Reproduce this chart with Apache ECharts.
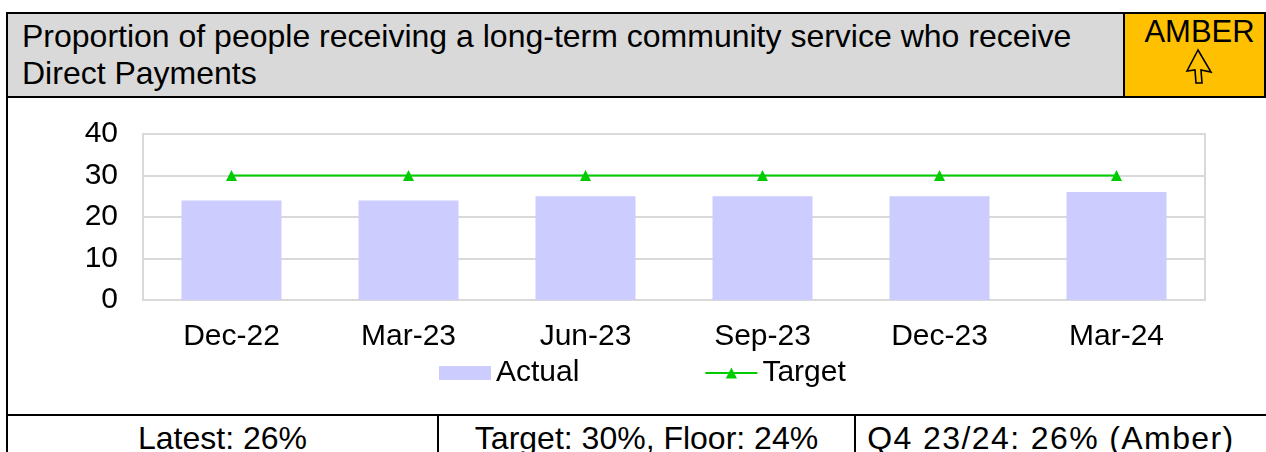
<!DOCTYPE html>
<html>
<head>
<meta charset="utf-8">
<script src="https://cdn.jsdelivr.net/npm/echarts@6/dist/echarts.min.js"></script>
<style>
  html, body { margin: 0; padding: 0; background: #fff; width: 1266px; height: 452px; overflow: hidden; }
  body { position: relative; font-family: "Liberation Sans", Arial, sans-serif; color: #000; }
  .abs { position: absolute; box-sizing: border-box; white-space: nowrap; }
  #header { left: 6px; top: 12px; width: 1119px; height: 86px; background: #d9d9d9;
            border: 2px solid #000; border-right: none; }
  #title { left: 22px; top: 18px; font-size: 32px; line-height: 37px; }
  #rag { left: 1123px; top: 12px; width: 143px; height: 86px; background: #ffc000;
         border: 2px solid #000; }
  #ragText { left: 1128px; top: 14px; width: 143px; text-align: center; font-size: 31px; line-height: 36px; }
  #arrow { left: 1183px; top: 48px; }
  #body { left: 6px; top: 96px; width: 1262px; height: 320px; border-left: 2px solid #000; border-bottom: 2px solid #000; }
  #chart { left: 8px; top: 98px; width: 1258px; height: 316px; }
  .cell { top: 416px; height: 40px; font-size: 32px; text-align: center; line-height: 44px; }
  .vline { top: 414px; width: 2px; height: 40px; background: #000; }
</style>
</head>
<body>
<div id="header" class="abs"></div>
<div id="title" class="abs">Proportion of people receiving a long-term community service who receive<br>Direct Payments</div>
<div id="rag" class="abs"></div>
<div id="ragText" class="abs">AMBER</div>
<svg id="arrow" class="abs" width="32" height="40" viewBox="0 0 32 40">
  <polygon points="15,2 4,23 12,22 13,35 19,35 18,22 28,24" fill="none" stroke="#000" stroke-width="1.6" stroke-linejoin="miter"/>
</svg>
<div id="body" class="abs"></div>
<div id="chart" class="abs"></div>
<div class="abs vline" style="left:6px"></div>
<div class="abs vline" style="left:437px"></div>
<div class="abs vline" style="left:854px"></div>
<div id="c1" class="abs cell" style="left:8px;width:429px;">Latest: 26%</div>
<div id="c2" class="abs cell" style="left:439px;width:415px;">Target: 30%, Floor: 24%</div>
<div id="c3" class="abs cell" style="left:856px;width:390px;letter-spacing:1.4px;">Q4 23/24: 26% (Amber)</div>
<script>
// Quarterly figures (percent)
const quarters = ['Dec-22', 'Mar-23', 'Jun-23', 'Sep-23', 'Dec-23', 'Mar-24'];
const actual = [24, 24, 25, 25, 25, 26];
const target = [30, 30, 30, 30, 30, 30];
const yTicks = { min: 0, max: 40, interval: 10 };

const FONT = '"Liberation Sans", Arial, sans-serif';
const chart = echarts.init(document.getElementById('chart'));
chart.setOption({
  animation: false,
  textStyle: { fontFamily: FONT },
  grid: {
    left: 135, top: 36, width: 1062, height: 166,
    show: true, borderColor: '#d9d9d9', borderWidth: 2, backgroundColor: 'transparent'
  },
  legend: {
    top: 255, left: 426,
    itemGap: 125,
    itemWidth: 52, itemHeight: 14,
    textStyle: { fontSize: 30, color: '#000', fontFamily: FONT },
    data: [
      { name: 'Actual', icon: 'rect' },
      { name: 'Target' }
    ]
  },
  xAxis: {
    type: 'category',
    data: quarters,
    axisLine: { show: true, lineStyle: { color: '#d9d9d9', width: 2 } },
    axisTick: { show: false },
    axisLabel: { fontSize: 30, color: '#000', margin: 22, fontFamily: FONT }
  },
  yAxis: {
    type: 'value',
    min: yTicks.min, max: yTicks.max, interval: yTicks.interval,
    axisLine: { show: true, lineStyle: { color: '#d9d9d9', width: 2 } },
    axisTick: { show: false },
    splitLine: { lineStyle: { color: '#d9d9d9', width: 2 } },
    axisLabel: { fontSize: 30, color: '#000', margin: 25, fontFamily: FONT }
  },
  series: [
    {
      name: 'Actual', type: 'bar', data: actual,
      barWidth: 100,
      itemStyle: { color: '#ccccff' }
    },
    {
      name: 'Target', type: 'line', data: target,
      symbol: 'triangle', symbolSize: 11,
      lineStyle: { color: '#00cc00', width: 2 },
      itemStyle: { color: '#00cc00' }
    }
  ]
});
</script>
</body>
</html>
